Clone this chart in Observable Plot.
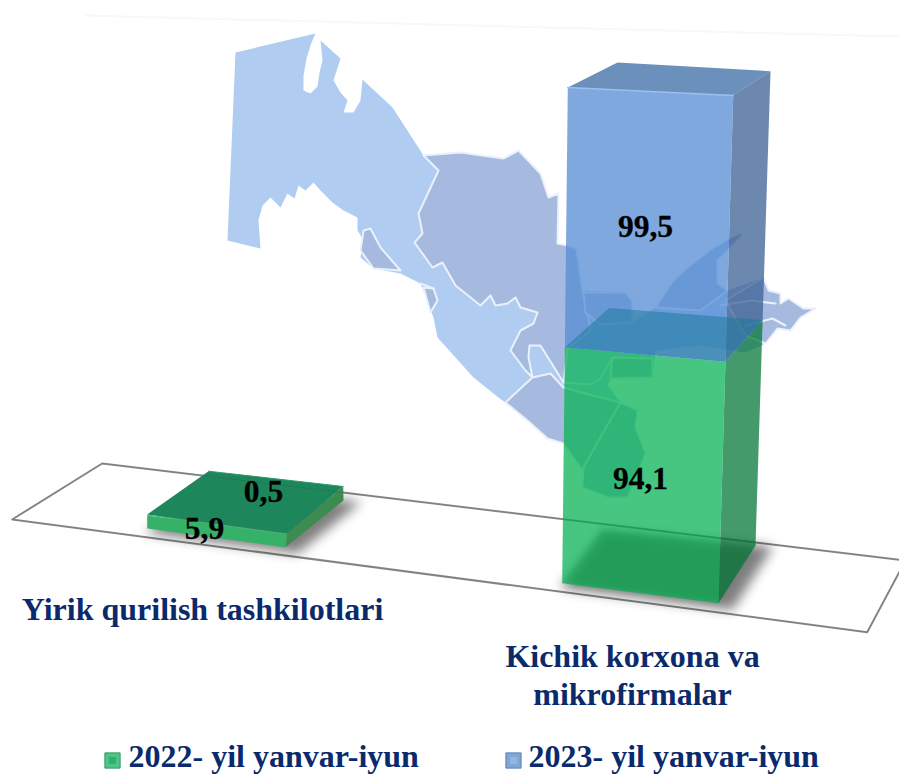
<!DOCTYPE html>
<html>
<head>
<meta charset="utf-8">
<script src="https://cdn.jsdelivr.net/npm/d3@7"></script>
<script src="https://cdn.jsdelivr.net/npm/@observablehq/plot@0.6"></script>
<style>
html,body{margin:0;padding:0;background:#fff;overflow:hidden}
svg{display:block}
</style>
</head>
<body>
<div id="chart"></div>
<script>
// ---------- data ----------
const categories = ["Yirik qurilish tashkilotlari", "Kichik korxona va\nmikrofirmalar"];
const series = ["2022- yil yanvar-iyun", "2023- yil yanvar-iyun"];
const values2022 = [5.9, 94.1];
const values2023 = [0.5, 99.5];
const fmt = v => String(v).replace(".", ",");

// ---------- scene layout (floor footprints of the perspective drawing) ----------
const barScene = [
  {base: [[146.7,528],[285,546.7],[343,500],[208,485]],
   top:  [[146.7,514],[286.7,533],[342.7,486],[208,470.7]], curve: 0},
  {base: [[561.7,582.7],[718,602.7],[755,545],[601,530]],
   top:  [[567.3,87],[732.7,95],[770,70.7],[617,62]], curve: 0.000228}
];
const floorShape = [[101.7,463],[905,560],[866.7,631.7],[11.7,519]];
const wallShape = [[85,15],[899,36]];

// ---------- background map of Uzbekistan (decorative artwork) ----------
const mapOutline = [[235,52],[315,33],[311,42],[306,58],[303,75],[303,90],[310,93],[317,86],[319,72],[322,60],[320,40],[340,58],[333,80],[340,92],[347,100],[343,112],[353,112],[360,100],[362,79],[392,107],[423,155],[460,152],[503,158],[518,150],[540,173],[548,197],[558,193],[557,243],[568,245],[576,248],[582,290],[625,292],[632,300],[632,322],[655,307],[673,280],[687,267],[713,247],[740,232],[742,235],[717,260],[717,283],[727,290],[763,277],[768,290],[780,293],[780,303],[788,298],[803,308],[815,308],[800,317],[790,330],[777,328],[765,343],[745,352],[700,345],[655,350],[652,377],[610,378],[607,385],[620,402],[637,410],[635,427],[645,453],[633,483],[627,497],[608,497],[582,487],[583,467],[563,443],[547,438],[527,420],[505,402],[498,397],[473,377],[437,337],[433,317],[423,290],[420,283],[400,273],[373,268],[360,257],[363,240],[357,230],[357,217],[343,210],[332,202],[320,190],[313,182],[305,190],[298,185],[294,198],[287,193],[280,207],[270,197],[262,205],[258,220],[260,248],[227,240]];
const mapDark = [
  [[423,155],[460,152],[503,158],[518,150],[540,173],[548,197],[558,193],[557,243],[568,245],[576,248],[582,290],[590,330],[567,348],[563,382],[540,345],[529,345],[528,357],[532,377],[525,370],[510,350],[520,330],[533,323],[537,312],[520,307],[515,297],[507,303],[495,305],[490,295],[480,305],[455,285],[442,262],[432,267],[414,242],[422,233],[418,213],[438,170]],
  [[505,402],[520,388],[532,377],[550,373],[563,387],[592,395],[620,402],[612,425],[582,470],[563,443],[547,438],[527,420]],
  [[360,250],[363,230],[370,228],[380,247],[400,270],[373,268]],
  [[423,287],[433,288],[437,300],[430,312]],
  [[583,292],[625,292],[632,300],[632,322],[600,324],[585,312]],
  [[655,307],[673,280],[687,267],[713,247],[740,232],[742,235],[717,260],[717,283],[727,290],[700,310]],
  [[612,357],[652,358],[652,377],[610,378]],
  [[763,277],[768,290],[780,293],[780,303],[788,298],[803,308],[815,308],[800,317],[790,330],[777,328],[765,343],[745,335],[725,300]],
  [[620,402],[637,410],[635,427],[645,453],[633,483],[627,497],[608,497],[582,487],[583,467],[598,440]]
];
const mapBorders = [
  [[720,305],[750,300],[775,303]],
  [[745,325],[772,318],[785,325]],
  [[420,283],[433,288]],
  [[563,382],[590,384],[600,378],[612,357]]
];

// ---------- styles ----------
const tone = {
  green: {front:"#08B355", side:"#057839", a:.75},
  blue:  {front:"#548CD3", side:"#3C6093", top:"#4171A8", a:.75},
  cap:   {fill:"#157798", a:.5}
};
const lerp = (p, q, t) => [p[0]+(q[0]-p[0])*t, p[1]+(q[1]-p[1])*t];

// place a stack height on the four vertical edges of a bar
function ring(b, v, total) {
  const lift = s => s + b.curve*s*s;
  const t = lift(v)/lift(total);
  return b.base.map((p,i) => lerp(p, b.top[i], t));
}
const poly = pts => pts.map(([x,y]) => ({x,y}));
const shape = (pts, o) => Plot.line(poly(pts), {x:"x", y:"y", curve:"linear-closed", stroke:"none", ...o});
const open = (pts, o) => Plot.line(poly(pts), {x:"x", y:"y", ...o});

const marks = [];

// wall hint and map
marks.push(open(wallShape, {stroke:"#f8f8f8", strokeWidth:2}));
marks.push(shape(mapOutline, {fill:"#B0CCF1"}));
mapDark.forEach(r => marks.push(shape(r, {fill:"#A6BAE0", stroke:"#EAF1FB", strokeWidth:2})));
mapBorders.forEach(r => marks.push(open(r, {stroke:"#EAF1FB", strokeWidth:2})));

// floor
marks.push(shape(floorShape, {stroke:"#8f8f8f", strokeWidth:2}));

// shadows + bars
const swell = (pts, s) => {
  const c = [d3.mean(pts,p=>p[0]), d3.mean(pts,p=>p[1])];
  return pts.map(p => [c[0]+(p[0]-c[0])*s + 8, c[1]+(p[1]-c[1])*s + 3]);
};
barScene.forEach(b => marks.push(shape(swell(b.base, 1.1), {fill:"#000", fillOpacity:.5, imageFilter:"blur(6px)"})));

// small bar: nearly flat, drawn opaque
{
  const b = barScene[0], g = values2022[0], total = g + values2023[0];
  const B = ring(b,0,total), G = ring(b,g,total), T = ring(b,total,total);
  marks.push(shape([B[1],B[2],T[2],T[1]], {fill:"#3C8B50"}));
  marks.push(shape([B[0],B[1],G[1],G[0]], {fill:"#35B268"}));
  marks.push(shape([G[0],G[1],T[1],T[0]], {fill:"#3FBE78"}));
  marks.push(shape(T, {fill:"#1D875B"}));
  marks.push(open([T[2],T[3]], {stroke:"#2E9A6C", strokeWidth:1}));
}
// tall bar: translucent faces over the map
{
  const b = barScene[1], g = values2022[1], total = g + values2023[1];
  const B = ring(b,0,total), G = ring(b,g,total), T = ring(b,total,total);
  // green: side then front
  marks.push(shape([B[1],B[2],G[2],G[1]], {fill:tone.green.side, fillOpacity:tone.green.a}));
  marks.push(shape([B[0],B[1],G[1],G[0]], {fill:tone.green.front, fillOpacity:tone.green.a}));
  // blue: side, front, top
  marks.push(shape([G[1],G[2],T[2],T[1]], {fill:tone.blue.side, fillOpacity:tone.blue.a}));
  marks.push(shape([G[0],G[1],T[1],T[0]], {fill:tone.blue.front, fillOpacity:tone.blue.a}));
  marks.push(shape(T, {fill:tone.blue.top, fillOpacity:.78}));
  // the green cap seen through the blue body
  marks.push(shape(G, {fill:tone.cap.fill, fillOpacity:tone.cap.a}));
  // the floor of the bar, darkened by its shadow
  marks.push(shape(B, {fill:"#0A5C30", fillOpacity:.13, imageFilter:"blur(2px)"}));
  marks.push(open([T[0],T[1]], {stroke:"#9CC0EE", strokeWidth:1.5}));
}
// floor edge seen through the bars
marks.push(shape(floorShape, {stroke:"#33523f", strokeWidth:1, strokeOpacity:.22}));

// value labels
const labelAnchors = [
  {x:204, y:528, s:values2022[0]},
  {x:263, y:491, s:values2023[0]},
  {x:640, y:478, s:values2022[1]},
  {x:645, y:226, s:values2023[1]}
];
marks.push(Plot.text(labelAnchors, {x:"x", y:"y", text:d=>fmt(d.s), fontSize:31.5, fontWeight:"bold",
  fontFamily:"'Liberation Serif'", fill:"#000", stroke:"#000", strokeWidth:.3}));

// category labels
const catAnchors = [{x:202, y:607}, {x:632, y:673}];
marks.push(Plot.text(categories.map((c,i)=>({c,...catAnchors[i]})), {x:"x", y:"y", text:"c", fontSize:32, lineHeight:1.19,
  fontWeight:"bold", fontFamily:"'Liberation Serif'", fill:"#0B2A6B"}));

// legend
const legendAnchors = [{x:128, mx:112, c:"#4CC585", e:"#2F9A63", i:"#35AD6C"}, {x:528, mx:513, c:"#7FA6D6", e:"#5E83B5", i:"#92B6E2"}];
const legendRows = series.map((s,i)=>({s,...legendAnchors[i]}));
marks.push(Plot.dot(legendRows, {x:"mx", y:()=>760, symbol:"square", r:8.6, fill:"c", stroke:"e", strokeWidth:1}));
marks.push(Plot.dot(legendRows, {x:"mx", y:()=>760, symbol:"square", r:4, fill:"i", stroke:"none"}));
marks.push(Plot.text(legendRows, {x:"x", y:()=>756, text:"s", textAnchor:"start", fontSize:32, fontWeight:"bold",
  fontFamily:"'Liberation Serif'", fill:"#0B2A6B"}));

const chart = Plot.plot({
  width:899, height:775, margin:0,
  x:{domain:[0,899], range:[0,899], axis:null},
  y:{domain:[0,775], range:[0,775], axis:null},
  style:{background:"#fff", overflow:"hidden"},
  marks
});
document.getElementById("chart").append(chart);
</script>
</body>
</html>
